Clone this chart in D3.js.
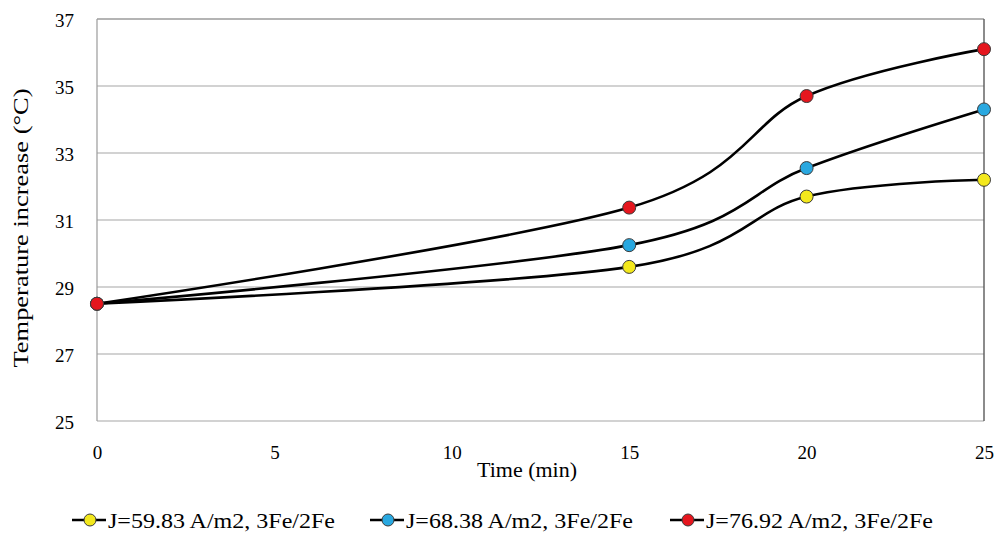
<!DOCTYPE html>
<html>
<head>
<meta charset="utf-8">
<script src="https://cdn.jsdelivr.net/npm/d3@7"></script>
<style>
  html, body { margin: 0; padding: 0; background: #fff; }
  svg { display: block; }
  svg text { font-family: "Times New Roman", Tinos, "Liberation Serif", Times, serif !important; fill: #000; }
</style>
</head>
<body>
<svg id="chart" width="995" height="535"></svg>
<script>
// ---- data ----
const times = [0, 15, 20, 25];
const seriesNames = ["J=59.83 A/m2, 3Fe/2Fe", "J=68.38 A/m2, 3Fe/2Fe", "J=76.92 A/m2, 3Fe/2Fe"];
const seriesColors = ["#f3e81c", "#29a8e0", "#e5161e"];
const valuesJ5983 = [28.5, 29.6, 31.7, 32.2];
const valuesJ6838 = [28.5, 30.25, 32.55, 34.3];
const valuesJ7692 = [28.5, 31.37, 34.7, 36.1];
const xTicks = [0, 5, 10, 15, 20, 25];
const yTicks = [25, 27, 29, 31, 33, 35, 37];
const xTitle = "Time (min)";
const yTitle = "Temperature increase (°C)";

const seriesValues = [valuesJ5983, valuesJ6838, valuesJ7692];
const series = seriesNames.map((name, i) => ({
  name, color: seriesColors[i],
  points: times.map((t, j) => ({ t, v: seriesValues[i][j] }))
}));

// ---- layout ----
const svg = d3.select("#chart");
const x = d3.scaleLinear().domain([0, 25]).range([97, 984]);
const y = d3.scaleLinear().domain([25, 37]).range([421, 19]);

// gridlines
svg.append("g").selectAll("line").data(yTicks).join("line")
  .attr("x1", x(0)).attr("x2", x(25))
  .attr("y1", d => y(d)).attr("y2", d => y(d))
  .attr("stroke", d => d === 37 ? "#6a6a6a" : "#a6a6a6").attr("stroke-width", 1.2);

// plot borders
svg.append("line").attr("x1", x(0)).attr("x2", x(0)).attr("y1", y(37)).attr("y2", y(25))
  .attr("stroke", "#9a9a9a").attr("stroke-width", 1.2);
svg.append("line").attr("x1", x(25)).attr("x2", x(25)).attr("y1", y(37)).attr("y2", y(25))
  .attr("stroke", "#5a5a5a").attr("stroke-width", 1.4);

// axes labels
const yAxis = d3.axisLeft(y).tickValues(yTicks).tickSize(0).tickPadding(23);
const gy = svg.append("g").attr("transform", `translate(${x(0)},0)`).call(yAxis);
gy.attr("font-family", null).attr("font-size", null);
gy.select(".domain").remove();
gy.selectAll("text").style("font-size", "19px").attr("dy", "0.4em");

const xAxis = d3.axisBottom(x).tickValues(xTicks).tickSize(0).tickPadding(25);
const gx = svg.append("g").attr("transform", `translate(0,${y(25)})`).call(xAxis);
gx.attr("font-family", null).attr("font-size", null);
gx.select(".domain").remove();
gx.selectAll("text").style("font-size", "19px");

svg.append("text").attr("x", 527).attr("y", 477).attr("text-anchor", "middle")
  .style("font-size", "21px")
  .attr("textLength", 100).attr("lengthAdjust", "spacingAndGlyphs")
  .text(xTitle);

svg.append("text").attr("transform", "translate(28,228) rotate(-90)")
  .attr("text-anchor", "middle").style("font-size", "22px")
  .attr("textLength", 279).attr("lengthAdjust", "spacingAndGlyphs")
  .text(yTitle);

// lines
const line = d3.line().x(d => x(d.t)).y(d => y(d.v)).curve(d3.curveCatmullRom.alpha(0));
svg.append("g").selectAll("path").data(series).join("path")
  .attr("d", d => line(d.points)).attr("fill", "none")
  .attr("stroke", "#000").attr("stroke-width", 2.6);

// markers
series.forEach(s => {
  svg.append("g").selectAll("circle").data(s.points).join("circle")
    .attr("cx", d => x(d.t)).attr("cy", d => y(d.v)).attr("r", 6.5)
    .attr("fill", s.color).attr("stroke", "#3a3a3a").attr("stroke-width", 1);
});

// legend
const legendX = [72, 370, 670];
const lg = svg.append("g").selectAll("g").data(series).join("g")
  .attr("transform", (d, i) => `translate(${legendX[i]},520)`);
lg.append("line").attr("x1", 0).attr("x2", 34).attr("y1", 0).attr("y2", 0)
  .attr("stroke", "#000").attr("stroke-width", 2.6);
lg.append("circle").attr("cx", 18).attr("cy", 0).attr("r", 6)
  .attr("fill", d => d.color).attr("stroke", "#3a3a3a").attr("stroke-width", 1);
lg.append("text").attr("x", 36).attr("y", 2).attr("dy", "0.3em")
  .style("font-size", "21px")
  .attr("textLength", 227).attr("lengthAdjust", "spacingAndGlyphs")
  .text(d => d.name);
</script>
</body>
</html>
